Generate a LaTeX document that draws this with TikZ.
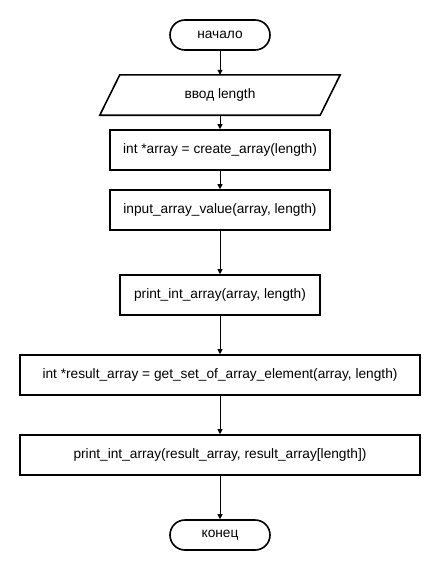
\documentclass[tikz,border=0pt]{standalone}
\usepackage{fontspec}
\setmainfont{Liberation Sans}
\usetikzlibrary{arrows.meta}

\begin{document}
\begin{tikzpicture}[x=1pt, y=-1pt,
    font=\fontsize{13.7}{16}\selectfont,
    term/.style={draw, line width=1.6pt, rounded corners=15pt, minimum width=100pt, minimum height=30pt},
    proc/.style={draw, line width=1.6pt, minimum height=40pt},
    io/.style={minimum width=240pt, minimum height=40pt},
    flow/.style={line width=1pt, -{Triangle[length=5pt, width=5pt]}}]
  \useasboundingbox (0, 0) rectangle (440, 570);

  \node[term]                      (start) at (220, 35)  {начало};
  \node[io]                        (inp)   at (220, 95)  {ввод length};
  \node[proc, minimum width=220pt] (arr)   at (220, 150) {int *array = create\_array(length)};
  \node[proc, minimum width=220pt] (fill)  at (220, 210) {input\_array\_value(array, length)};
  \node[proc, minimum width=200pt] (show)  at (220, 295) {print\_int\_array(array, length)};
  \node[proc, minimum width=400pt] (res)   at (220, 375) {int *result\_array = get\_set\_of\_array\_element(array, length)};
  \node[proc, minimum width=400pt] (out)   at (220, 455) {print\_int\_array(result\_array, result\_array[length])};
  \node[term]                      (stop)  at (220, 535) {конец};

  % параллелограмм ввода, сдвиг 20
  \draw[line width=1.6pt] ([xshift=20pt]inp.north west) -- (inp.north east)
    -- ([xshift=-20pt]inp.south east) -- (inp.south west) -- cycle;

  \draw[flow] (start) -- (inp);
  \draw[flow] (inp) -- (arr);
  \draw[flow] (arr) -- (fill);
  \draw[flow] (fill) -- (show);
  \draw[flow] (show) -- (res);
  \draw[flow] (res) -- (out);
  \draw[flow] (out) -- (stop);
\end{tikzpicture}
\end{document}
